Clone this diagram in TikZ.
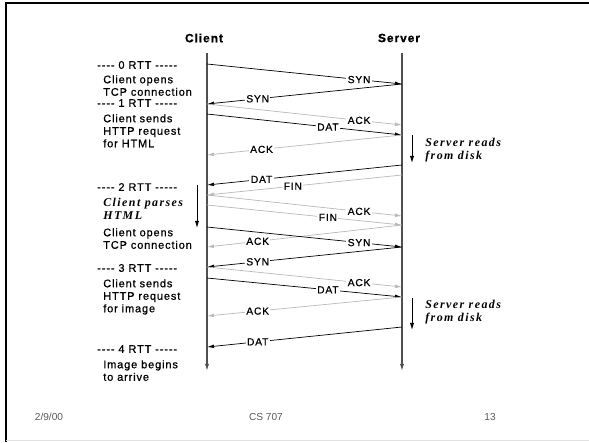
\documentclass[tikz,border=0pt]{standalone}
\usepackage{fontspec}
\setmainfont{Liberation Sans}
\newfontfamily\diagfont[LetterSpace=8, FakeBold=0.8]{Liberation Sans}
\newfontfamily\notafont[LetterSpace=12]{Liberation Serif}
\usetikzlibrary{arrows.meta}
\definecolor{GrisLinea}{RGB}{80,80,80}
\definecolor{GrisClaro}{RGB}{185,185,185}
\definecolor{GrisPie}{RGB}{90,90,90}
\definecolor{GrisBorde}{RGB}{225,225,225}

\begin{document}
\begin{tikzpicture}[x=0.025cm, y=-0.025cm,
	titulo/.style={font=\diagfont\bfseries\fontsize{8.5}{10}\selectfont, inner sep=0pt},
	texto/.style={font=\diagfont\fontsize{7.8}{8.9}\selectfont, inner sep=0pt, align=left},
	nota/.style={font=\notafont\bfseries\itshape\fontsize{8.5}{8.9}\selectfont, inner sep=0pt, align=left},
	etiqueta/.style={font=\diagfont\fontsize{7.3}{8}\selectfont, text=black, fill=white, inner sep=1pt},
	pie/.style={font=\fontsize{7.2}{8}\selectfont, text=GrisPie, inner sep=0pt},
	eje/.style={GrisLinea, line width=0.9pt, -{Latex[length=5pt,width=3pt]}},
	negro/.style={black, line width=0.5pt, -{Latex[length=5pt,width=2.6pt]}},
	gris/.style={GrisClaro, line width=0.5pt, -{Latex[length=5pt,width=2.6pt]}},
	espera/.style={black, line width=0.6pt, -{Latex[length=5pt,width=3pt]}}]
	\useasboundingbox (0,0) rectangle (589,442);
	\draw[line width=1.4pt] (589,3) -- (6,3) -- (6,442);
	\draw[GrisBorde, line width=0.7pt] (6,440.5) -- (589,440.5);

	\node[titulo] (cliente) at (204,38) {Client};
	\node[titulo] (servidor) at (399,38) {Server};
	\coordinate (cinicio) at (207,53);
	\coordinate (cfin) at (207,371);
	\coordinate (sinicio) at (402,53);
	\coordinate (sfin) at (402,371);
	\draw[eje] (cinicio) -- (cfin);
	\draw[eje] (sinicio) -- (sfin);

	\foreach \y in {64,84,104,114,125,135,155,165,175,185,195,205,216,225,227,247,267,278,287,297,316,327,347} {
		\coordinate (c\y) at (207,\y);
		\coordinate (s\y) at (402,\y);
	}

	\draw[negro] (c64) -- node[etiqueta, pos=.78] {SYN} (s84);
	\draw[negro] (s84) -- node[etiqueta, pos=.74] {SYN} (c104);
	\draw[gris] (c104) -- node[etiqueta, pos=.78] {ACK} (s125);
	\draw[negro] (c114) -- node[etiqueta, pos=.62] {DAT} (s135);
	\draw[gris] (s135) -- node[etiqueta, pos=.72] {ACK} (c155);
	\draw[negro] (s165) -- node[etiqueta, pos=.72] {DAT} (c185);
	\draw[gris] (s175) -- node[etiqueta, pos=.56] {FIN} (c195);
	\draw[gris] (c195) -- node[etiqueta, pos=.78] {ACK} (s216);
	\draw[gris] (c205) -- node[etiqueta, pos=.62] {FIN} (s225);
	\draw[gris] (s225) -- node[etiqueta, pos=.74] {ACK} (c247);
	\draw[negro] (c227) -- node[etiqueta, pos=.78] {SYN} (s247);
	\draw[negro] (s247) -- node[etiqueta, pos=.74] {SYN} (c267);
	\draw[gris] (c267) -- node[etiqueta, pos=.78] {ACK} (s287);
	\draw[negro] (c278) -- node[etiqueta, pos=.62] {DAT} (s297);
	\draw[gris] (s297) -- node[etiqueta, pos=.74] {ACK} (c316);
	\draw[negro] (s327) -- node[etiqueta, pos=.74] {DAT} (c347);

	\node[texto, anchor=west] (rtt0) at (97,65) {-{}-{}-{}- 0 RTT -{}-{}-{}-{}-};
	\node[texto, anchor=north west] (abre1) at (103,75) {Client opens\\TCP connection};
	\node[texto, anchor=west] (rtt1) at (97,103) {-{}-{}-{}- 1 RTT -{}-{}-{}-{}-};
	\node[texto, anchor=north west] (pide1) at (103,114) {Client sends\\HTTP request\\for HTML};
	\node[texto, anchor=west] (rtt2) at (97,187) {-{}-{}-{}- 2 RTT -{}-{}-{}-{}-};
	\node[nota, anchor=north west] (analiza) at (103,198) {Client parses\\HTML};
	\node[texto, anchor=north west] (abre2) at (103,228) {Client opens\\TCP connection};
	\node[texto, anchor=west] (rtt3) at (97,268) {-{}-{}-{}- 3 RTT -{}-{}-{}-{}-};
	\node[texto, anchor=north west] (pide2) at (103,279) {Client sends\\HTTP request\\for image};
	\node[texto, anchor=west] (rtt4) at (97,349) {-{}-{}-{}- 4 RTT -{}-{}-{}-{}-};
	\node[texto, anchor=north west] (llega) at (103,360) {Image begins\\to arrive};

	\coordinate (panalisis) at (197,185);
	\coordinate (fanalisis) at (197,228);
	\draw[espera] (panalisis) -- (fanalisis);
	\node[nota, anchor=north west] (disco1) at (425,138) {Server reads\\from disk};
	\coordinate (pdisco1) at (412,135);
	\coordinate (fdisco1) at (412,163);
	\draw[espera] (pdisco1) -- (fdisco1);
	\node[nota, anchor=north west] (disco2) at (425,300) {Server reads\\from disk};
	\coordinate (pdisco2) at (412,298);
	\coordinate (fdisco2) at (412,330);
	\draw[espera] (pdisco2) -- (fdisco2);

	\node[pie] (fecha) at (49,417) {2/9/00};
	\node[pie] (curso) at (266,417) {CS 707};
	\node[pie] (pagina) at (490,417) {13};
\end{tikzpicture}
\end{document}
